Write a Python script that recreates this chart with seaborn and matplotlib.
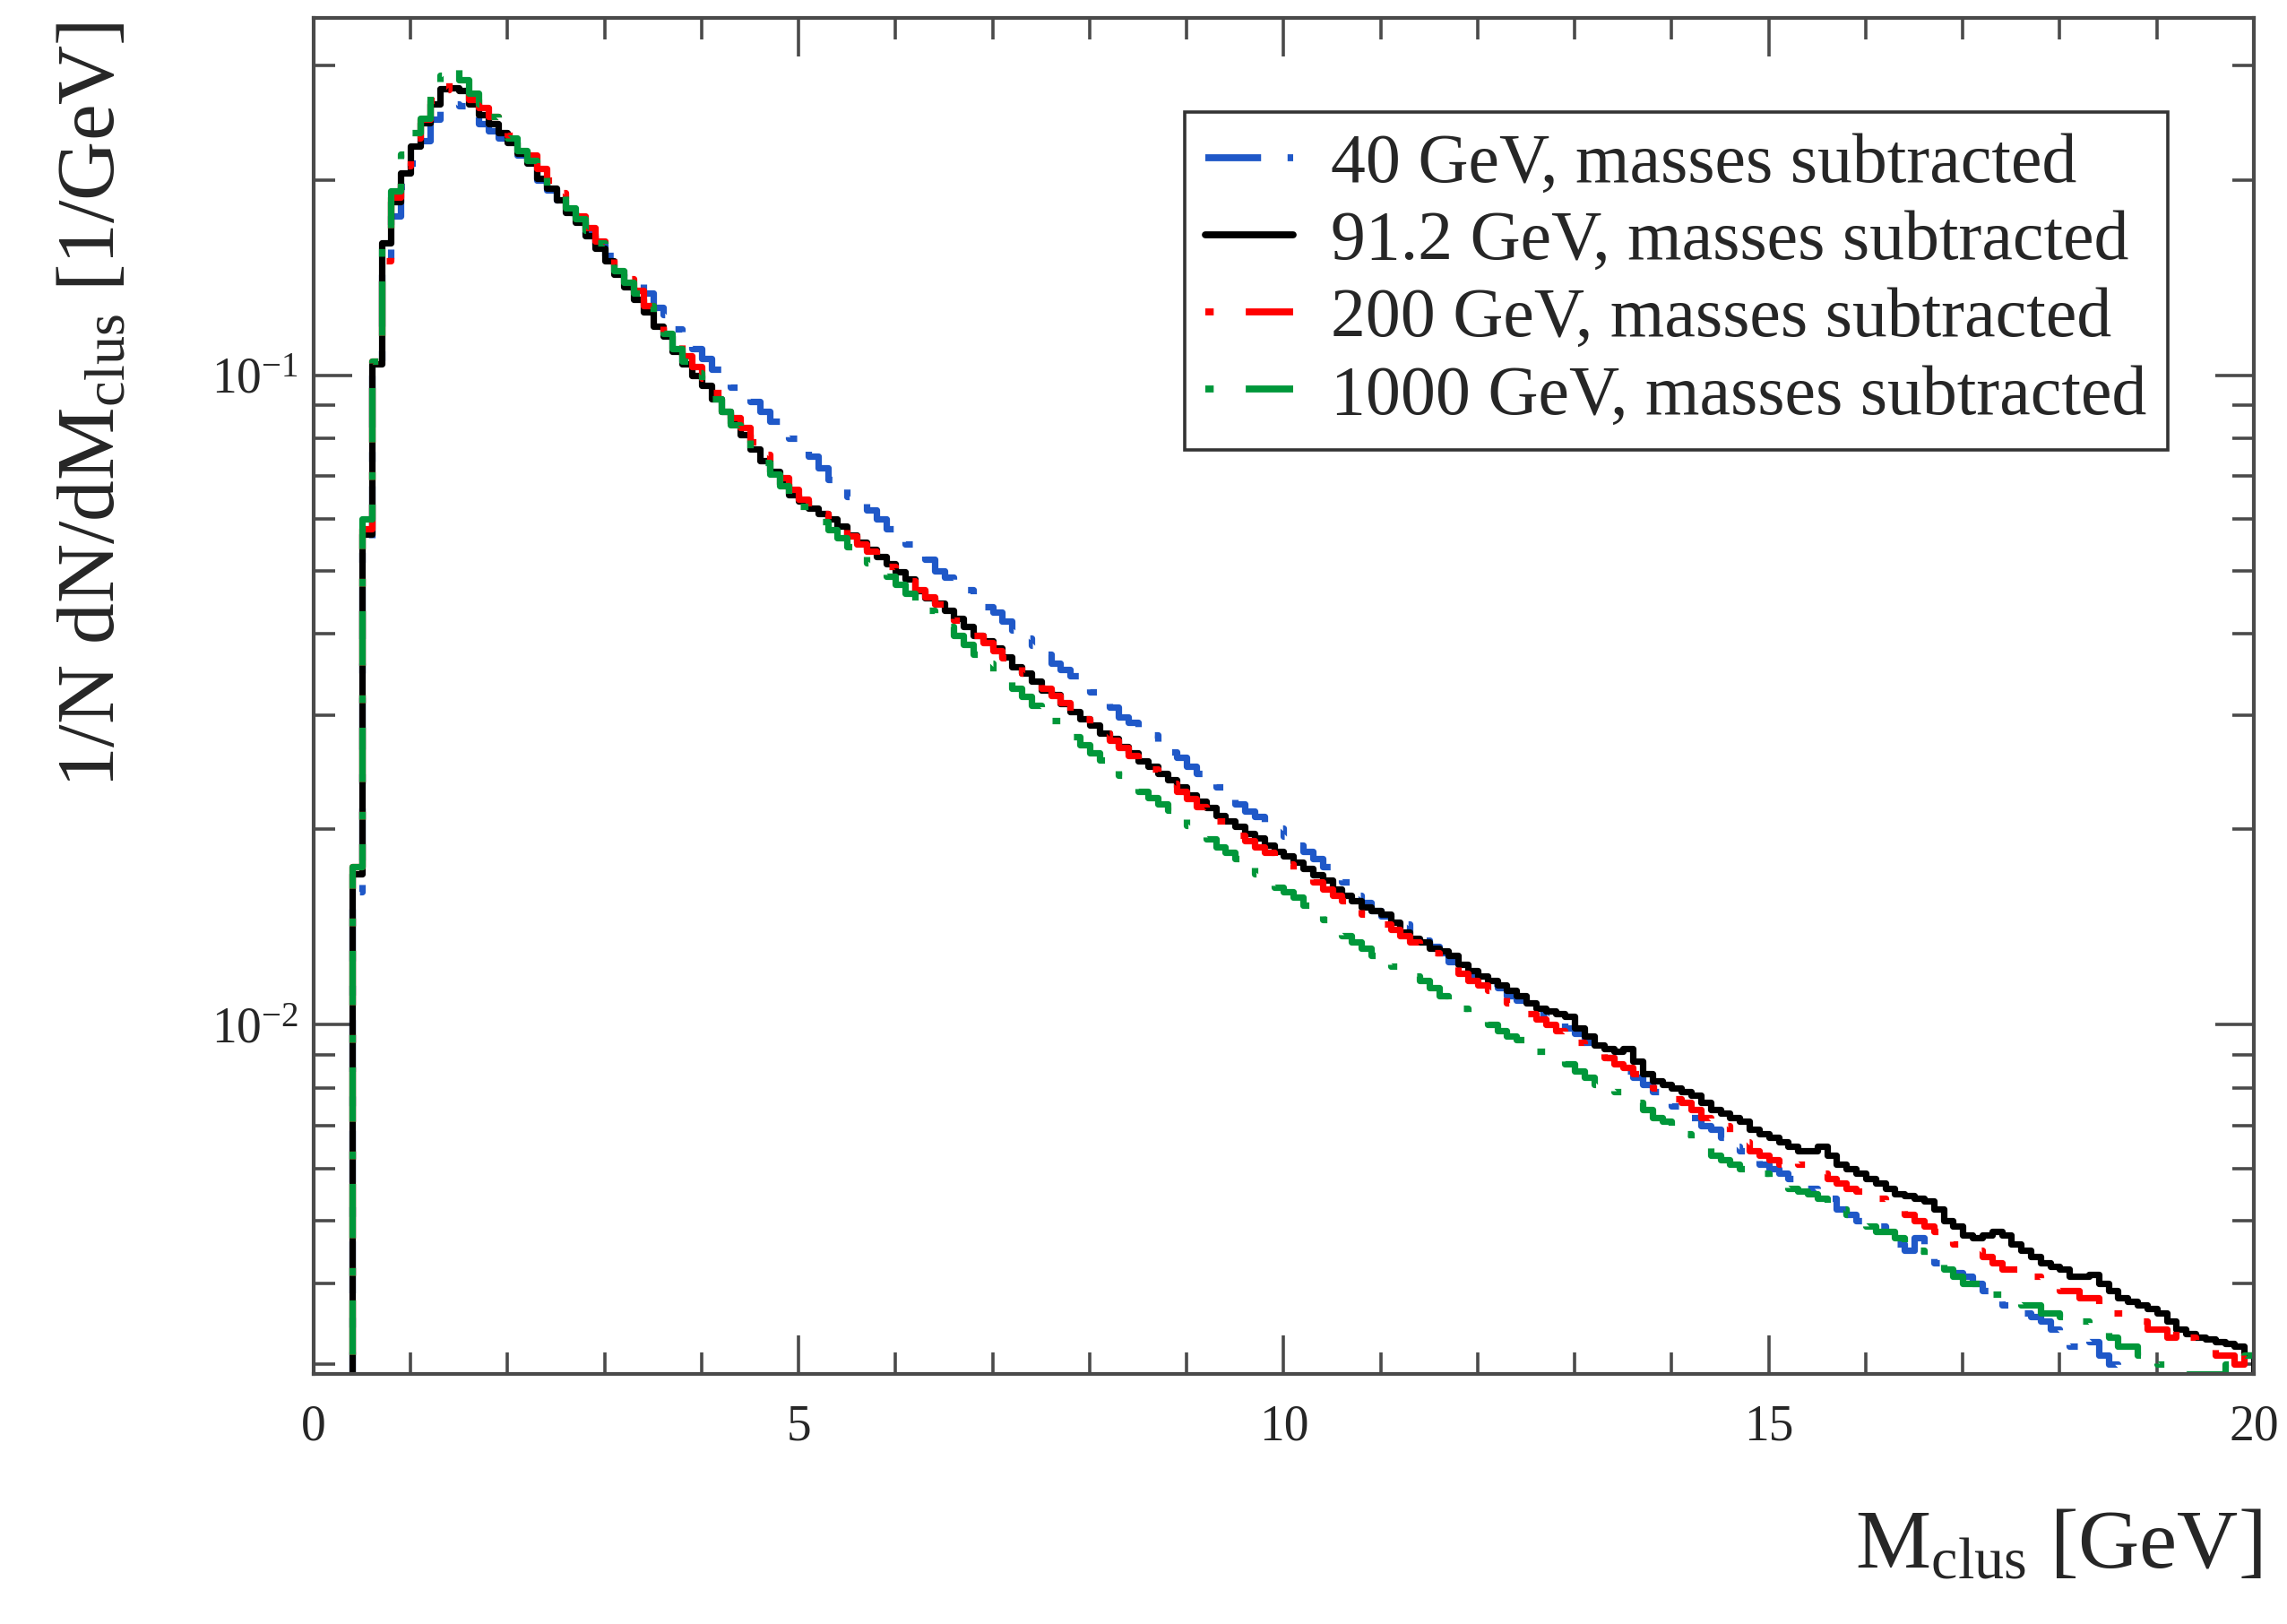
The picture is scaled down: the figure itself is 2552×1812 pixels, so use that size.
import numpy as np
import pandas as pd
import seaborn as sns
import matplotlib.pyplot as plt
from matplotlib.ticker import MultipleLocator, LogLocator, NullFormatter, FuncFormatter

# ---- data: 1/N dN/dM_clus per 0.1 GeV bin, first bin 0.3-0.4 is empty ----
bin_edges = np.round(np.arange(0.3, 20.05, 0.1), 1)   # 0.3 ... 20.0

labels = ["40 GeV, masses subtracted", "91.2 GeV, masses subtracted",
          "200 GeV, masses subtracted", "1000 GeV, masses subtracted"]

vals_40 = [0.0,
    0.016, 0.055, 0.100, 0.143, 0.176, 0.195,
    0.212, 0.230, 0.248, 0.257, 0.262, 0.260, 0.255, 0.244, 0.238, 0.232,
    0.224, 0.218, 0.210, 0.200, 0.193, 0.186, 0.178, 0.172, 0.165, 0.159,
    0.153, 0.147, 0.142, 0.138, 0.134, 0.127, 0.124, 0.118, 0.113, 0.110,
    0.106, 0.102, 0.099, 0.096, 0.093, 0.091, 0.088, 0.085, 0.083, 0.080,
    0.077, 0.075, 0.072, 0.069, 0.067, 0.065, 0.0635, 0.062, 0.060, 0.058,
    0.0565, 0.055, 0.053, 0.052, 0.050, 0.0488, 0.0478, 0.0468, 0.0452, 0.0440,
    0.0432, 0.0418, 0.0405, 0.0394, 0.0384, 0.0372, 0.0360, 0.0352, 0.0345, 0.0335,
    0.0325, 0.0316, 0.0308, 0.0298, 0.0292, 0.0285, 0.0279, 0.0270, 0.0263, 0.0258,
    0.0250, 0.0244, 0.0238, 0.0232, 0.0225, 0.0219, 0.0213, 0.0209, 0.0205, 0.0201,
    0.0195, 0.0189, 0.0185, 0.0180, 0.0175, 0.0171, 0.0166, 0.0158, 0.0154, 0.0150,
    0.0147, 0.0145, 0.0143, 0.0138, 0.0135, 0.0132, 0.0129, 0.0125, 0.0122, 0.0119,
    0.0118, 0.0116, 0.0114, 0.0111, 0.0109, 0.0107, 0.0104, 0.0103, 0.0101, 0.0099,
    0.0097, 0.0094, 0.0092, 0.0089, 0.0087, 0.0085, 0.0083, 0.0081, 0.0079, 0.0077,
    0.0075, 0.0074, 0.0072, 0.0070, 0.0069, 0.0067, 0.0065, 0.0064, 0.0063, 0.0061,
    0.0060, 0.0059, 0.0058, 0.0057, 0.0056, 0.0055, 0.0054, 0.0052, 0.0051, 0.0050,
    0.0050, 0.0049, 0.0048, 0.0046, 0.0045, 0.0047, 0.0045, 0.0043, 0.0042, 0.00415,
    0.0041, 0.0040, 0.0039, 0.0038, 0.0037, 0.00365, 0.0036, 0.00355, 0.0035, 0.0034,
    0.0033, 0.0032, 0.0033, 0.00325, 0.0031, 0.0030, 0.00295, 0.0028, 0.0027, 0.0027,
    0.0026, 0.0026, 0.0025, 0.0025, 0.0024, 0.0024, 0.0023, 0.0023, 0.0022, 0.0022]

vals_91 = [0.0,
    0.0171, 0.057, 0.104, 0.160, 0.185, 0.205,
    0.225, 0.245, 0.262, 0.276, 0.277, 0.274, 0.262, 0.252, 0.244, 0.236,
    0.228, 0.220, 0.212, 0.201, 0.194, 0.186, 0.178, 0.172, 0.164, 0.157,
    0.150, 0.143, 0.137, 0.131, 0.125, 0.119, 0.115, 0.109, 0.104, 0.100,
    0.0965, 0.092, 0.088, 0.0845, 0.081, 0.077, 0.0738, 0.0712, 0.068, 0.0655,
    0.0640, 0.0625, 0.0612, 0.0600, 0.0585, 0.0568, 0.0553, 0.0540, 0.0526, 0.0512,
    0.0498, 0.0485, 0.0466, 0.0455, 0.0446, 0.0435, 0.0422, 0.0410, 0.0398, 0.0390,
    0.0380, 0.0368, 0.0356, 0.0348, 0.0338, 0.0328, 0.0322, 0.0312, 0.0303, 0.0296,
    0.0289, 0.0281, 0.0276, 0.0268, 0.0262, 0.0255, 0.0250, 0.0244, 0.0238, 0.0232,
    0.0226, 0.0221, 0.0216, 0.0210, 0.0206, 0.0202, 0.0197, 0.0194, 0.0189, 0.0185,
    0.0182, 0.0178, 0.0174, 0.0170, 0.0167, 0.0162, 0.0158, 0.0155, 0.0152, 0.0150,
    0.0148, 0.0144, 0.0139, 0.0136, 0.0134, 0.0131, 0.0130, 0.0128, 0.0124, 0.0121,
    0.0119, 0.0117, 0.0115, 0.0113, 0.0111, 0.0108, 0.0106, 0.0105, 0.0104, 0.0103,
    0.0099, 0.0096, 0.0093, 0.0092, 0.0091, 0.0092, 0.0088, 0.0084, 0.0082, 0.0081,
    0.0080, 0.0079, 0.0078, 0.0076, 0.0074, 0.0073, 0.0072, 0.0071, 0.0069, 0.0068,
    0.0067, 0.0066, 0.0065, 0.0064, 0.0064, 0.0065, 0.0063, 0.0061, 0.0060, 0.0059,
    0.0058, 0.0057, 0.0056, 0.0055, 0.00545, 0.0054, 0.00535, 0.0052, 0.0050, 0.0049,
    0.00475, 0.0047, 0.00475, 0.0048, 0.00475, 0.0046, 0.0045, 0.0044, 0.0043, 0.00425,
    0.0042, 0.0041, 0.0041, 0.00412, 0.0040, 0.0039, 0.0038, 0.00375, 0.0037, 0.00366,
    0.0036, 0.0035, 0.0034, 0.00335, 0.0033, 0.00328, 0.00325, 0.00323, 0.0032, 0.0031]

vals_200 = [0.0,
    0.0175, 0.058, 0.105, 0.150, 0.188, 0.210,
    0.232, 0.248, 0.265, 0.275, 0.282, 0.276, 0.266, 0.258, 0.250, 0.242,
    0.234, 0.226, 0.218, 0.208, 0.200, 0.191, 0.184, 0.176, 0.169, 0.161,
    0.154, 0.147, 0.141, 0.135, 0.128, 0.122, 0.117, 0.112, 0.107, 0.103,
    0.099, 0.094, 0.090, 0.086, 0.083, 0.079, 0.0755, 0.0725, 0.0695, 0.0668,
    0.0645, 0.0628, 0.0612, 0.0598, 0.0580, 0.0565, 0.0550, 0.0536, 0.0522, 0.0508,
    0.0495, 0.0482, 0.0468, 0.0456, 0.0444, 0.0432, 0.0420, 0.0409, 0.0398, 0.0387,
    0.0377, 0.0367, 0.0357, 0.0348, 0.0338, 0.0330, 0.0321, 0.0313, 0.0304, 0.0296,
    0.0288, 0.0281, 0.0274, 0.0267, 0.0260, 0.0254, 0.0248, 0.0241, 0.0235, 0.0229,
    0.0223, 0.0217, 0.0212, 0.0206, 0.0200, 0.0196, 0.0192, 0.0188, 0.0184, 0.0180,
    0.0177, 0.0173, 0.0169, 0.0166, 0.0162, 0.0158, 0.0155, 0.0151, 0.0148, 0.0146,
    0.0143, 0.0140, 0.0137, 0.0134, 0.0132, 0.0129, 0.0126, 0.0123, 0.0120, 0.0117,
    0.0115, 0.0113, 0.0111, 0.0108, 0.0106, 0.0104, 0.0102, 0.0100, 0.0098, 0.0095,
    0.0094, 0.0093, 0.0091, 0.0089, 0.0087, 0.0086, 0.0084, 0.0082, 0.0080, 0.0078,
    0.0077, 0.0076, 0.0074, 0.0072, 0.0071, 0.0070, 0.0068, 0.0066, 0.0064, 0.0063,
    0.0062, 0.0061, 0.0062, 0.0061, 0.0060, 0.0059, 0.0058, 0.0057, 0.0056, 0.00555,
    0.0055, 0.0054, 0.0053, 0.0052, 0.0051, 0.0050, 0.0049, 0.0048, 0.0047, 0.0046,
    0.00455, 0.0045, 0.0044, 0.0043, 0.0042, 0.0042, 0.0041, 0.0041, 0.0040, 0.0040,
    0.0039, 0.0039, 0.0038, 0.0038, 0.0037, 0.0036, 0.0036, 0.0035, 0.0035, 0.0034,
    0.0034, 0.0033, 0.0034, 0.0033, 0.0032, 0.0032, 0.0031, 0.0031, 0.0030, 0.0031]

vals_1000 = [0.0,
    0.0175, 0.060, 0.105, 0.160, 0.192, 0.219,
    0.236, 0.249, 0.279, 0.290, 0.299, 0.285, 0.272, 0.262, 0.250, 0.240,
    0.232, 0.222, 0.214, 0.206, 0.196, 0.189, 0.181, 0.174, 0.167, 0.160,
    0.151, 0.145, 0.139, 0.134, 0.128, 0.121, 0.116, 0.110, 0.105, 0.101,
    0.096, 0.092, 0.088, 0.084, 0.080, 0.077, 0.0735, 0.0705, 0.0675, 0.0650,
    0.0628, 0.0612, 0.0595, 0.0578, 0.0562, 0.0545, 0.0530, 0.0515, 0.0503, 0.0490,
    0.0476, 0.0462, 0.0450, 0.0435, 0.0423, 0.0410, 0.0398, 0.0385, 0.0372, 0.0360,
    0.0350, 0.0340, 0.0330, 0.0320, 0.0310, 0.0301, 0.0294, 0.0286, 0.0278, 0.0270,
    0.0262, 0.0256, 0.0249, 0.0242, 0.0236, 0.0229, 0.0224, 0.0219, 0.0214, 0.0208,
    0.0203, 0.0198, 0.0193, 0.0188, 0.0184, 0.0180, 0.0175, 0.0171, 0.0167, 0.0163,
    0.0160, 0.0157, 0.0153, 0.0149, 0.0145, 0.0141, 0.0137, 0.0134, 0.0131, 0.0128,
    0.0126, 0.0123, 0.0121, 0.0119, 0.0117, 0.0114, 0.0111, 0.0108, 0.0106, 0.0104,
    0.0102, 0.0100, 0.0098, 0.0096, 0.0095, 0.0093, 0.0091, 0.0090, 0.0089, 0.0087,
    0.0085, 0.0083, 0.0081, 0.0080, 0.0079, 0.0078, 0.0076, 0.0074, 0.0072, 0.0071,
    0.0069, 0.0068, 0.0066, 0.0065, 0.0063, 0.0062, 0.0061, 0.0060, 0.0060, 0.0059,
    0.0058, 0.0057, 0.0056, 0.00555, 0.0055, 0.0054, 0.0053, 0.0052, 0.0051, 0.0050,
    0.0049, 0.0048, 0.0048, 0.0047, 0.0046, 0.0045, 0.0044, 0.0043, 0.0042, 0.0041,
    0.0040, 0.0040, 0.0039, 0.00385, 0.0038, 0.0038, 0.0037, 0.0037, 0.0036, 0.0036,
    0.00355, 0.0035, 0.0035, 0.0034, 0.0034, 0.0033, 0.0032, 0.0032, 0.0031, 0.0031,
    0.0030, 0.0030, 0.0030, 0.0029, 0.0029, 0.0029, 0.0029, 0.0030, 0.0030, 0.0031]

colors = {labels[0]: "#1f58c8", labels[1]: "#000000",
          labels[2]: "#ff0000", labels[3]: "#00973a"}
dash_map = {labels[0]: (8.0, 3.8, 1.5, 3.8), labels[1]: "",
            labels[2]: (1.2, 4.6, 8.4, 3.8), labels[3]: (1.2, 4.6, 8.4, 3.8)}

# long table, step line: value at the left edge of each bin, drop to 0 at 20
rows = []
for name, vals in zip(labels, [vals_40, vals_91, vals_200, vals_1000]):
    for x, y in zip(bin_edges, list(vals) + [0.0]):
        rows.append((name, x, y))
df = pd.DataFrame(rows, columns=["sample", "M", "dNdM"])

sns.set_style("ticks")
plt.rcParams["font.family"] = ["Liberation Serif", "DejaVu Serif"]
plt.rcParams["mathtext.fontset"] = "custom"
plt.rcParams["mathtext.rm"] = "Liberation Serif"
plt.rcParams["mathtext.it"] = "Liberation Serif:italic"
plt.rcParams["mathtext.bf"] = "Liberation Serif:bold"

fig = plt.figure(figsize=(12.76, 9.06), dpi=200)
ax = fig.add_axes([0.1371, 0.154, 0.8484, 0.835])

sns.lineplot(data=df, x="M", y="dNdM", hue="sample", style="sample",
             hue_order=labels, style_order=labels, palette=colors,
             dashes=dash_map, drawstyle="steps-post", linewidth=2.6,
             estimator=None, sort=False, ax=ax)

ax.set_yscale("log")
ax.set_xlim(0, 20)
ax.set_ylim(0.0029, 0.355)

ax.xaxis.set_major_locator(MultipleLocator(5))
ax.xaxis.set_minor_locator(MultipleLocator(1))
ax.yaxis.set_major_locator(LogLocator(base=10))
ax.yaxis.set_minor_locator(LogLocator(base=10, subs=np.arange(2, 10)))
ax.yaxis.set_minor_formatter(NullFormatter())
ax.yaxis.set_major_formatter(FuncFormatter(lambda v, p: r"$10^{%d}$" % round(np.log10(v))))
ax.xaxis.set_major_formatter(FuncFormatter(lambda v, p: "%d" % v))

axis_col = "#4a4a4a"
for sp in ax.spines.values():
    sp.set_visible(True)
    sp.set_color(axis_col)
    sp.set_linewidth(1.5)
ax.tick_params(which="both", direction="in", top=True, right=True,
               color=axis_col, width=1.3, labelsize=20)
ax.tick_params(which="major", length=15.5)
ax.tick_params(which="minor", length=8.5)
ax.tick_params(axis="x", which="major", pad=12)
ax.tick_params(axis="y", which="major", pad=6)

ax.set_xlabel(r"M$_{\rm clus}$ [GeV]", fontsize=34, loc="right")
ax.xaxis.set_label_coords(1.004, -0.1)
ax.set_ylabel(r"1/N dN/dM$_{\rm clus}$ [1/GeV]", fontsize=33, loc="top")
ax.yaxis.set_label_coords(-0.094, 0.997)

handles, labs = ax.get_legend_handles_labels()
leg = ax.legend(handles, labs, loc="upper left", bbox_to_anchor=(0.449, 0.9306),
                borderaxespad=0, frameon=True, fancybox=False, framealpha=1,
                edgecolor="#333333", fontsize=28, handlelength=1.25,
                handletextpad=0.55, borderpad=0.3, labelspacing=0.19)
leg.get_frame().set_linewidth(1.3)
for ln in leg.get_lines():
    ln.set_linewidth(2.8)

fig.savefig("out.png", dpi=200)
plt.close(fig)
